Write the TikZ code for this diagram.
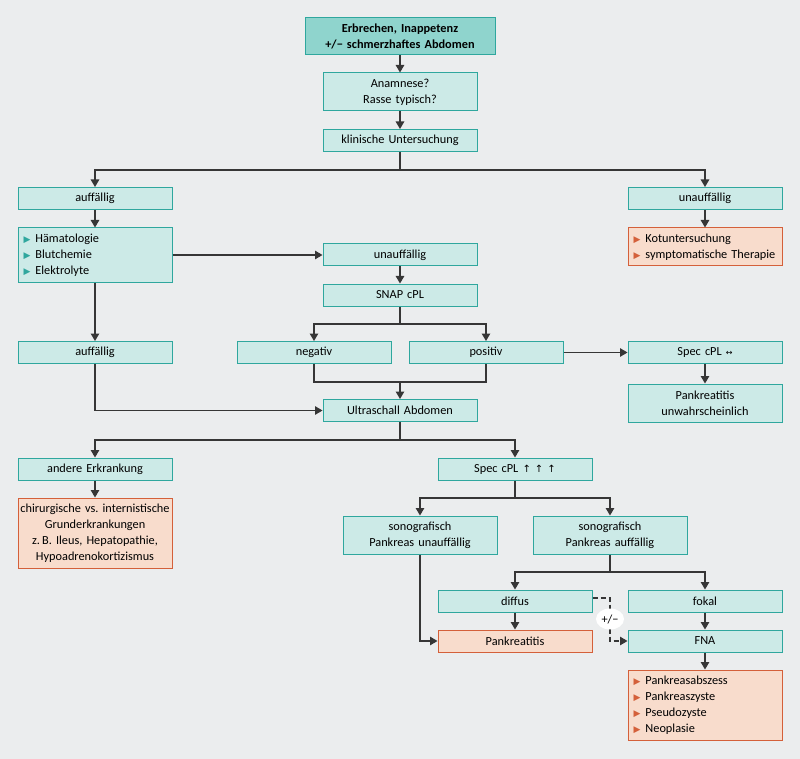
\documentclass[tikz,border=0pt]{standalone}
\usepackage{fontspec}
\setmainfont{Carlito}
\newfontfamily\symfont{DejaVu Sans}
\usepackage{xcolor}
\usetikzlibrary{arrows.meta,positioning,calc,shapes.geometric}

\definecolor{bgGray}{HTML}{EBEDEE}
\definecolor{boxFill}{HTML}{CCEAE7}
\definecolor{boxLine}{HTML}{2FA79E}
\definecolor{headFill}{HTML}{8FD4CD}
\definecolor{warnFill}{HTML}{F8DCCC}
\definecolor{warnLine}{HTML}{D4603A}
\definecolor{lineGray}{HTML}{363636}

\newcommand{\tbul}{{\color{boxLine}\fontsize{9}{9}\symfont ▶}\hspace{5pt}}
\newcommand{\obul}{{\color{warnLine}\fontsize{9}{9}\symfont ▶}\hspace{5pt}}

\tikzset{
    txt/.style={font=\fontsize{12.3}{16}\selectfont},
    box/.style={txt, draw=boxLine, fill=boxFill, line width=1pt, minimum width=154pt,
        text width=150pt, inner sep=2pt, align=center, minimum height=22pt},
    headbox/.style={box, fill=headFill, minimum width=190pt, text width=186pt,
        font=\fontsize{12.3}{16}\selectfont\bfseries},
    warnbox/.style={box, draw=warnLine, fill=warnFill},
    listbox/.style={align=left, text width=143pt, inner xsep=5.5pt},
    arr/.style={draw=lineGray, line width=1.2pt, -{Triangle[length=7.5pt,width=8.5pt]}},
    ln/.style={draw=lineGray, line width=1.2pt},
    pmlabel/.style={txt, ellipse, fill=white, inner sep=1pt, minimum width=28pt, minimum height=21pt}
}

\begin{document}
\begin{tikzpicture}[x=1pt, y=-1pt]
    \fill[bgGray] (0,0) rectangle (800,759);
    \useasboundingbox (0,0) rectangle (800,759);

    % Start
    \node[headbox, minimum height=37pt] (start) at (400,36.5) {Erbrechen, Inappetenz\\+/\textminus\ schmerzhaftes Abdomen};
    \node[box, minimum height=38pt] (anam) at (400,92) {Anamnese?\\Rasse typisch?};
    \node[box] (klin) at (400,140.5) {klinische Untersuchung};

    % Left branch
    \node[box] (auff1) at (95,198.5) {auffällig};
    \node[box, listbox, minimum height=54pt] (labor) at (95,255) {\tbul Hämatologie\\\tbul Blutchemie\\\tbul Elektrolyte};
    \node[box] (auff2) at (95,352.5) {auffällig};

    % Right branch
    \node[box] (unauffR) at (705,198.5) {unauffällig};
    \node[warnbox, listbox, minimum height=38pt] (kot) at (705,247) {\obul Kotuntersuchung\\\obul symptomatische Therapie};

    % SNAP
    \node[box] (unauffM) at (400,255) {unauffällig};
    \node[box] (snap) at (400,295) {SNAP cPL};
    \node[box] (neg) at (314,352.5) {negativ};
    \node[box] (pos) at (486,352.5) {positiv};
    \node[box] (specN) at (705,352.5) {Spec cPL {\symfont\fontsize{8}{8}\selectfont ↔}};
    \node[box, minimum height=38pt] (unwahr) at (705,403) {Pankreatitis\\unwahrscheinlich};

    % Ultraschall
    \node[box] (ultra) at (400,410.5) {Ultraschall Abdomen};
    \node[box] (andere) at (95,469) {andere Erkrankung};
    \node[warnbox, minimum height=70pt, text width=154pt, inner xsep=0pt] (chir) at (95,533) {chirurgische vs.\ internistische\\Grunderkrankungen\\z.\,B. Ileus, Hepatopathie,\\Hypoadrenokortizismus};
    \node[box] (specUp) at (515,469) {Spec cPL {\symfont\fontsize{10}{10}\selectfont ↑ ↑ ↑}};
    \node[box, minimum height=38pt] (sonoU) at (420,535) {sonografisch\\Pankreas unauffällig};
    \node[box, minimum height=38pt] (sonoA) at (610,535) {sonografisch\\Pankreas auffällig};
    \node[box] (diffus) at (515,601) {diffus};
    \node[box] (fokal) at (705,601) {fokal};
    \node[warnbox] (pank) at (515,641) {Pankreatitis};
    \node[box] (fna) at (705,641) {FNA};
    \node[warnbox, listbox, minimum height=70pt] (befund) at (705,705) {\obul Pankreasabszess\\\obul Pankreaszyste\\\obul Pseudozyste\\\obul Neoplasie};

    % split points
    \coordinate (s1) at (400,170);
    \coordinate (s2) at (400,324);
    \coordinate (m1) at (400,382);
    \coordinate (s3) at (400,440);
    \coordinate (s4) at (515,498);
    \coordinate (s5) at (610,572);
    \coordinate (dm) at (610,619);

    % connectors
    \draw[arr] (start) -- (anam);
    \draw[arr] (anam) -- (klin);
    \draw[ln] (klin) -- (s1);
    \draw[arr] (s1) -| (auff1);
    \draw[arr] (s1) -| (unauffR);
    \draw[arr] (unauffR) -- (kot);
    \draw[arr] (auff1) -- (labor);
    \draw[arr] (labor) -- (auff2);
    \draw[arr] (labor) -- (unauffM);
    \draw[arr] (unauffM) -- (snap);
    \draw[ln] (snap) -- (s2);
    \draw[arr] (s2) -| (neg);
    \draw[arr] (s2) -| (pos);
    \draw[arr] (pos) -- (specN);
    \draw[arr] (specN) -- (unwahr);
    \draw[ln] (neg) |- (m1);
    \draw[ln] (pos) |- (m1);
    \draw[arr] (m1) -- (ultra);
    \draw[arr] (auff2) |- (ultra);
    \draw[ln] (ultra) -- (s3);
    \draw[arr] (s3) -| (andere);
    \draw[arr] (s3) -| (specUp);
    \draw[arr] (andere) -- (chir);
    \draw[ln] (specUp) -- (s4);
    \draw[arr] (s4) -| (sonoU);
    \draw[arr] (s4) -| (sonoA);
    \draw[ln] (sonoA) -- (s5);
    \draw[arr] (s5) -| (diffus);
    \draw[arr] (s5) -| (fokal);
    \draw[arr] (sonoU) |- (pank);
    \draw[arr] (diffus) -- (pank);
    \draw[arr] (fokal) -- (fna);
    \draw[arr] (fna) -- (befund);
    \draw[arr, dashed, dash pattern=on 5pt off 3pt] ([yshift=3pt]diffus.east) -| (dm) |- (fna.west);
    \node[pmlabel] (pm) at (dm) {+/\textminus};
\end{tikzpicture}
\end{document}
